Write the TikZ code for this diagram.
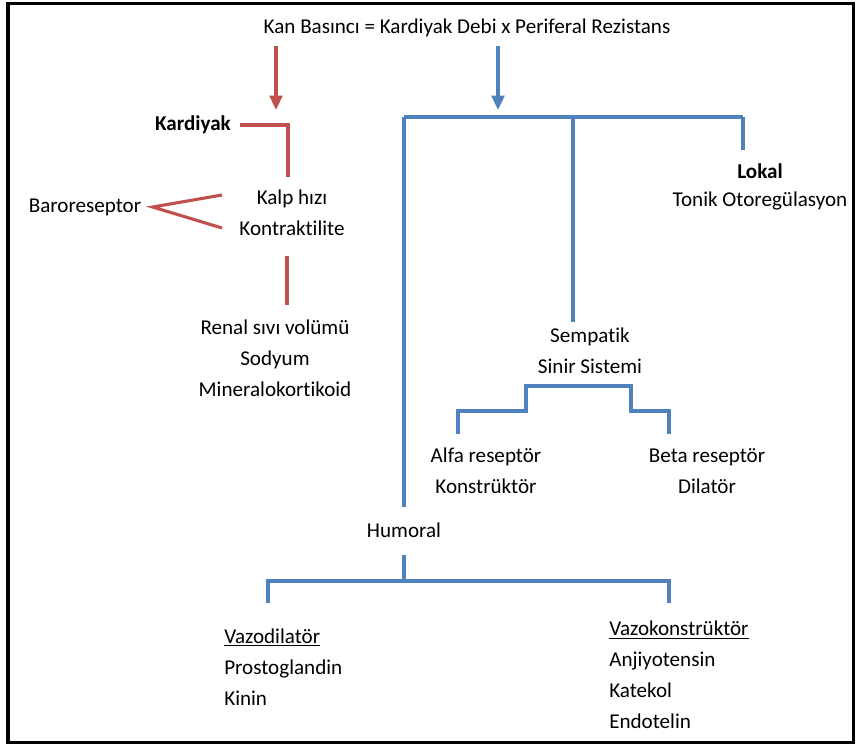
\documentclass[tikz,border=0pt]{standalone}
\usepackage{fontspec}
\setmainfont{Carlito}[Ligatures=NoCommon]
\usetikzlibrary{positioning, arrows.meta}

\definecolor{kardred}{RGB}{192,80,77}
\definecolor{perblue}{RGB}{79,129,189}

\tikzset{
  lbl/.style={font=\fontsize{15}{22}\selectfont, align=center, inner sep=0},
  redline/.style={draw=kardred, line width=2.2pt},
  blueline/.style={draw=perblue, line width=2.2pt},
  downarrow/.style={-{Triangle[width=0.32cm, length=0.36cm]}}
}

\begin{document}
\begin{tikzpicture}[x=0.025cm, y=-0.025cm]
      \useasboundingbox (0, 0) rectangle (856, 746);
      \draw[line width=0.075cm] (8, 3) rectangle (853, 742);

      \node[lbl] (kan) at (467, 28) {Kan Basıncı = Kardiyak Debi x Periferal Rezistans};

      % kardiyak side
      \node[lbl, font=\fontsize{15}{22}\selectfont\bfseries] (kard) at (193, 125) {Kardiyak};
      \node[lbl] (baro) at (85, 207) {Baroreseptor};
      \node[lbl] (kalp) at (292, 213) {Kalp hızı\\Kontraktilite};
      \node[lbl] (renal) at (275, 358) {Renal sıvı volümü\\Sodyum\\Mineralokortikoid};

      \coordinate (redtop) at (276, 46);
      \coordinate (redtip) at (276, 110);
      \coordinate (kalptop) at (288, 177);
      \coordinate (baroup) at (222, 195);
      \coordinate (barodn) at (222, 228);
      \coordinate (renaltop) at (287, 256);
      \coordinate (renalbot) at (287, 305);

      \path (redtop) edge[redline, downarrow] (redtip);
      \draw[redline, shorten <=0.22cm] (kard.east) -| (kalptop);
      \draw[redline] (baroup) -- ([xshift=0.28cm]baro.east) -- (barodn);
      \draw[redline] (renaltop) -- (renalbot);

      % periferal side
      \node[lbl, font=\fontsize{15}{20}\selectfont] (lokal) at (760, 187) {\textbf{Lokal}\\Tonik Otoregülasyon};
      \node[lbl] (semp) at (590, 351) {Sempatik\\Sinir Sistemi};
      \node[lbl] (alfa) at (486, 471) {Alfa reseptör\\Konstrüktör};
      \node[lbl] (beta) at (707, 471) {Beta reseptör\\Dilatör};
      \node[lbl] (hum) at (404, 530) {Humoral};
      \node[lbl, align=left, anchor=west] (vazod) at (224, 667) {\underline{Vazodilatör}\\Prostoglandin\\Kinin};
      \node[lbl, align=left, anchor=west] (vazok) at (609, 675) {\underline{Vazokonstrüktör}\\Anjiyotensin\\Katekol\\Endotelin};

      \coordinate (bluetop) at (498, 46);
      \coordinate (bluetip) at (498, 110);
      \coordinate (barl) at (404, 117);
      \coordinate (barm) at (573, 117);
      \coordinate (barr) at (743, 117);
      \coordinate (humtop) at (404, 507);
      \coordinate (semptop) at (573, 322);
      \coordinate (lokaltop) at (743, 150);
      \coordinate (alfatop) at (458, 434);
      \coordinate (betatop) at (669, 434);
      \coordinate (humbot) at (404, 555);
      \coordinate (vazodtop) at (268, 603);
      \coordinate (vazoktop) at (669, 603);

      \path (bluetop) edge[blueline, downarrow] (bluetip);
      \draw[blueline] (barl) -- (barr);
      \draw[blueline] (barl) -- (humtop);
      \draw[blueline] (barm) -- (semptop);
      \draw[blueline] (barr) -- (lokaltop);

      \draw[blueline] (alfatop) |- (526, 411) |- (631, 386) |- (669, 411) -- (betatop);
      \draw[blueline] (humbot) -- (404, 581);
      \draw[blueline] (vazodtop) |- (669, 581) -- (vazoktop);
\end{tikzpicture}
\end{document}
